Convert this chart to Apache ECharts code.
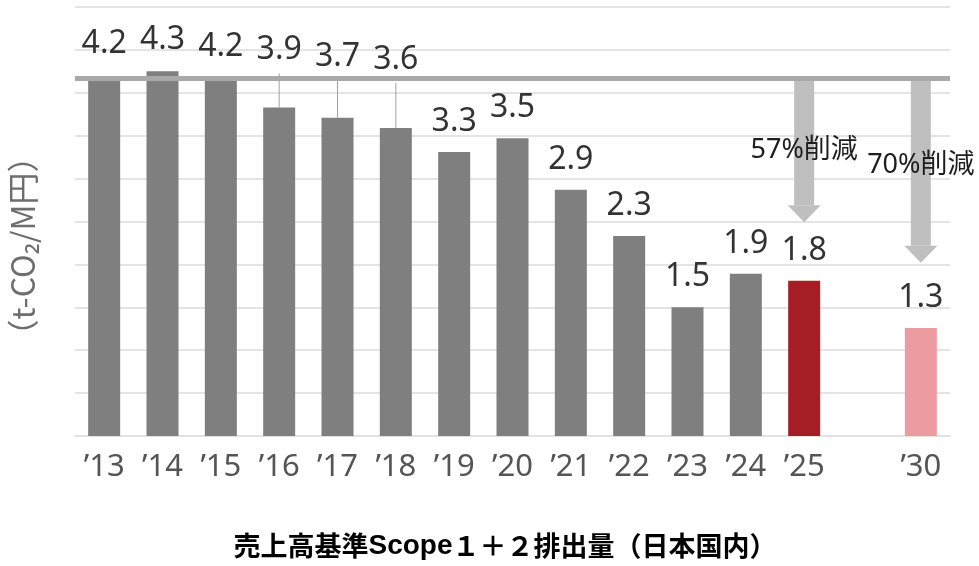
<!DOCTYPE html>
<html>
<head>
<meta charset="utf-8">
<script src="https://cdn.jsdelivr.net/npm/echarts@6/dist/echarts.min.js"></script>
<style>
html,body{margin:0;padding:0;background:#fff;}
#chart{width:979px;height:566px;}
</style>
</head>
<body>
<div id="chart"></div>
<script>
// ---- data ----
const categories = ["’13","’14","’15","’16","’17","’18","’19","’20","’21","’22","’23","’24","’25","","’30"];
const values     = [4.14, 4.25, 4.14, 3.83, 3.71, 3.59, 3.31, 3.47, 2.87, 2.33, 1.50, 1.89, 1.81, null, 1.26];
const valueLabels= ["4.2","4.3","4.2","3.9","3.7","3.6","3.3","3.5","2.9","2.3","1.5","1.9","1.8","","1.3"];
const baseline = 4.17;                       // FY2013 reference level
const arrowCats = ["’25","’30"];
const arrowTips = [2.49, 2.02];
const reductionLabels = ["57%削減","70%削減"];
const leaderCats = ["’16","’17","’18"];
const yTicks = {min: 0, max: 5, interval: 0.5};
const yAxisTitle = "（t-CO₂/M円）";
const chartTitle = ["売上高基準", "Scope", "１＋２排出量（日本国内）"];

// ---- styles ----
const GRAY = '#7f7f7f', RED = '#a51e25', PINK = '#ec9ca0';
const barColors = {"’25": RED, "’30": PINK};
const labelLift = {"’13": 7, "’14": 1, "’15": 4, "’16": 27, "’17": 31, "’18": 38};
const FONT = '"Noto Sans CJK JP", "Noto Sans", sans-serif';
const NUMFONT = '"Noto Sans", "Noto Sans CJK JP", sans-serif';

const barData = values.map((v, i) => ({
  value: v,
  itemStyle: {color: barColors[categories[i]] || GRAY},
  label: {formatter: valueLabels[i], offset: [0, -(labelLift[categories[i]] || 0)]}
}));

const arrowData = arrowCats.map((c, i) => [categories.indexOf(c), baseline, arrowTips[i], reductionLabels[i]]);
const leaderData = leaderCats.map(c => [categories.indexOf(c), values[categories.indexOf(c)], labelLift[c]]);

const chart = echarts.init(document.getElementById('chart'));
chart.setOption({
  animation: false,
  backgroundColor: '#fff',
  grid: {left: 75, right: 29, top: 7, bottom: 130},
  xAxis: {
    type: 'category',
    data: categories,
    axisLine: {lineStyle: {color: '#e2e2e2', width: 2}},
    axisTick: {show: false},
    axisLabel: {fontSize: 31, color: '#555', fontFamily: NUMFONT, margin: 16, interval: 0}
  },
  yAxis: {
    type: 'value',
    min: yTicks.min, max: yTicks.max, interval: yTicks.interval,
    axisLabel: {show: false},
    axisLine: {show: false},
    axisTick: {show: false},
    splitLine: {lineStyle: {color: '#e4e4e4', width: 2}}
  },
  graphic: [
    {
      type: 'text', x: 23, y: 246, rotation: Math.PI / 2,
      style: {text: yAxisTitle, fontSize: 32, fill: '#6e6e6e', fontFamily: FONT, align: 'center', verticalAlign: 'middle'}
    },
    {
      type: 'text', x: 505, y: 546,
      style: {
        text: '{a|' + chartTitle[0] + '}{b|' + chartTitle[1] + '}{a|' + chartTitle[2] + '}',
        align: 'center', verticalAlign: 'middle',
        rich: {
          a: {fontSize: 27, fontWeight: 'bold', fill: '#000', fontFamily: FONT},
          b: {fontSize: 28, fontWeight: 'bold', fill: '#000', fontFamily: '"Liberation Sans Narrow", "Liberation Sans", sans-serif'}
        }
      }
    }
  ],
  series: [
    {
      type: 'custom',
      z: 1,
      silent: true,
      data: arrowData,
      renderItem: function (params, api) {
        const top = api.coord([api.value(0), api.value(1)]);
        const tip = api.coord([api.value(0), api.value(2)]);
        const x = top[0];
        const head = 17, shaftW = 20, headW = 33;
        return {
          type: 'group',
          children: [
            {type: 'rect', shape: {x: x - shaftW / 2, y: top[1], width: shaftW, height: tip[1] - head - top[1]}, style: {fill: '#bfbfbf'}},
            {type: 'polygon', shape: {points: [[x - headW / 2, tip[1] - head], [x + headW / 2, tip[1] - head], [x, tip[1]]]}, style: {fill: '#bfbfbf'}},
            {type: 'text', x: x, y: (top[1] + tip[1]) / 2 - (params.dataIndex === 1 ? 5 : 0),
             style: {text: api.value(3), fontSize: 27, fill: '#1e1e1e', fontFamily: NUMFONT, align: 'center', verticalAlign: 'middle'}}
          ]
        };
      }
    },
    {
      type: 'custom',
      z: 1,
      silent: true,
      data: leaderData,
      renderItem: function (params, api) {
        const p = api.coord([api.value(0), api.value(1)]);
        return {type: 'line', shape: {x1: p[0], y1: p[1], x2: p[0], y2: p[1] - 7 - api.value(2)}, style: {stroke: '#a0a0a0', lineWidth: 1}};
      }
    },
    {
      type: 'bar',
      z: 2,
      barWidth: 32,
      data: barData,
      label: {
        show: true, position: 'top', distance: 15,
        fontSize: 32, lineHeight: 30, color: '#333', fontFamily: NUMFONT
      },
      markLine: {
        silent: true, symbol: 'none', z: 3,
        label: {show: false},
        lineStyle: {color: '#a9a9a9', width: 5, type: 'solid'},
        data: [{yAxis: baseline}]
      }
    }
  ]
});
</script>
</body>
</html>
